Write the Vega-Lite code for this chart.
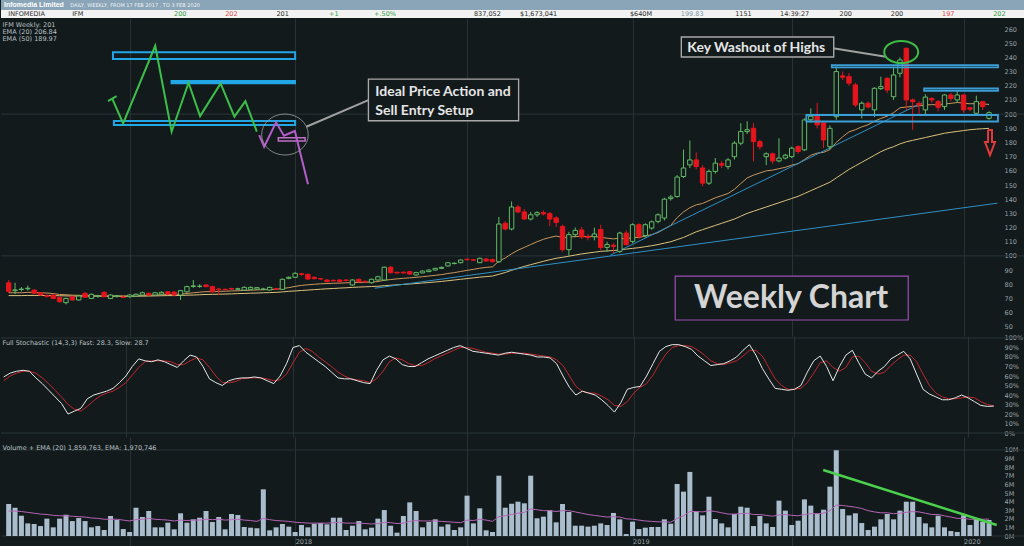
{
  "$schema": "https://vega.github.io/schema/vega-lite/v6.json",
  "background": "#121a1c",
  "padding": 0,
  "spacing": 0,
  "bounds": "flush",
  "config": {
    "view": {"stroke": null},
    "font": "DejaVu Sans",
    "axis": {"labelFont": "DejaVu Sans", "labelFontSize": 6.5, "labelColor": "#9aa2a6", "tickSize": 0, "ticks": false, "domain": false, "grid": false, "labelOverlap": false, "labelFlush": false, "labelBound": false},
    "title": {"font": "DejaVu Sans"}
  },
  "resolve": {"scale": {"x": "independent", "y": "independent", "color": "independent"}},
  "datasets": {
    "weeks": [
      {"w":0,"d":"2017-02-20","o":81,"h":83,"l":74,"c":75,"v":3.72,"ve":2.9,"k":59,"s":55,"e20":74,"e50":72},
      {"w":1,"d":"2017-02-27","o":75.5,"h":81,"l":73,"c":76,"v":3.29,"ve":2.9,"k":63,"s":60,"e20":74,"e50":72},
      {"w":2,"d":"2017-03-06","o":76.3,"h":78,"l":75,"c":76.6,"v":2.36,"ve":2.85,"k":65,"s":63,"e20":74,"e50":72},
      {"w":3,"d":"2017-03-13","o":76.8,"h":79,"l":75.5,"c":77.2,"v":1.47,"ve":2.75,"k":66,"s":65,"e20":74.3,"e50":72.1},
      {"w":4,"d":"2017-03-20","o":75.9,"h":76.5,"l":73,"c":73.6,"v":1.4,"ve":2.65,"k":65,"s":65,"e20":74.2,"e50":72.1},
      {"w":5,"d":"2017-03-27","o":74,"h":74.5,"l":72,"c":72.4,"v":1.16,"ve":2.55,"k":58,"s":63,"e20":74,"e50":72.1},
      {"w":6,"d":"2017-04-03","o":71.8,"h":73,"l":70.5,"c":71.6,"v":2.02,"ve":2.5,"k":52,"s":58,"e20":73.8,"e50":72},
      {"w":7,"d":"2017-04-10","o":72.4,"h":72.8,"l":69.5,"c":70,"v":1.01,"ve":2.4,"k":45,"s":52,"e20":73.4,"e50":72},
      {"w":8,"d":"2017-04-17","o":70.8,"h":71,"l":67,"c":67.7,"v":2.02,"ve":2.35,"k":38,"s":45,"e20":72.8,"e50":71.9},
      {"w":9,"d":"2017-04-24","o":67,"h":70.5,"l":65.8,"c":70,"v":2.48,"ve":2.35,"k":31,"s":38,"e20":72.6,"e50":71.8},
      {"w":10,"d":"2017-05-01","o":71.2,"h":71.5,"l":68.5,"c":68.9,"v":1.74,"ve":2.3,"k":20,"s":30,"e20":72.3,"e50":71.7},
      {"w":11,"d":"2017-05-08","o":68.9,"h":72.5,"l":68.5,"c":71.7,"v":2.09,"ve":2.25,"k":23,"s":25,"e20":72.2,"e50":71.6},
      {"w":12,"d":"2017-05-15","o":73.6,"h":74.5,"l":70.5,"c":70.8,"v":1.74,"ve":2.2,"k":26,"s":23,"e20":72,"e50":71.6},
      {"w":13,"d":"2017-05-22","o":70,"h":73.5,"l":69.5,"c":72.9,"v":1.01,"ve":2.1,"k":36,"s":28,"e20":72,"e50":71.6},
      {"w":14,"d":"2017-05-29","o":71.6,"h":72.5,"l":70.5,"c":71.8,"v":1.16,"ve":2.05,"k":40,"s":34,"e20":71.9,"e50":71.6},
      {"w":15,"d":"2017-06-05","o":74.3,"h":75,"l":70.8,"c":71.2,"v":0.7,"ve":1.95,"k":42,"s":39,"e20":71.8,"e50":71.5},
      {"w":16,"d":"2017-06-12","o":70,"h":73,"l":69.5,"c":72.4,"v":2.33,"ve":1.95,"k":44,"s":42,"e20":71.8,"e50":71.5},
      {"w":17,"d":"2017-06-19","o":71.6,"h":72.5,"l":70.5,"c":71.8,"v":1.86,"ve":1.95,"k":47,"s":44,"e20":71.8,"e50":71.5},
      {"w":18,"d":"2017-06-26","o":70.9,"h":71.8,"l":70,"c":70.7,"v":0.81,"ve":1.85,"k":53,"s":48,"e20":71.7,"e50":71.5},
      {"w":19,"d":"2017-07-03","o":71.2,"h":73,"l":70.5,"c":72.4,"v":0.47,"ve":1.75,"k":60,"s":53,"e20":71.8,"e50":71.5},
      {"w":20,"d":"2017-07-10","o":71.7,"h":73.5,"l":71,"c":72.9,"v":3.29,"ve":1.9,"k":70,"s":61,"e20":71.9,"e50":71.6},
      {"w":21,"d":"2017-07-17","o":72.4,"h":74.8,"l":72,"c":74,"v":2.21,"ve":1.95,"k":78,"s":69,"e20":72.1,"e50":71.6},
      {"w":22,"d":"2017-07-24","o":73.6,"h":74.2,"l":72,"c":72.4,"v":2.91,"ve":2.05,"k":76,"s":75,"e20":72.2,"e50":71.7},
      {"w":23,"d":"2017-07-31","o":72.4,"h":74.5,"l":72,"c":74,"v":1.01,"ve":1.95,"k":75,"s":76,"e20":72.4,"e50":71.8},
      {"w":24,"d":"2017-08-07","o":73,"h":75,"l":72.5,"c":74.3,"v":1.01,"ve":1.9,"k":77,"s":76,"e20":72.6,"e50":71.9},
      {"w":25,"d":"2017-08-14","o":74.7,"h":75.2,"l":72.6,"c":73.1,"v":1.55,"ve":1.85,"k":75,"s":76,"e20":72.7,"e50":72},
      {"w":26,"d":"2017-08-21","o":74.5,"h":75,"l":72,"c":72.4,"v":0.78,"ve":1.75,"k":72,"s":75,"e20":72.7,"e50":72},
      {"w":27,"d":"2017-08-28","o":72.4,"h":76,"l":68.9,"c":75.5,"v":2.64,"ve":1.85,"k":69,"s":72,"e20":73,"e50":72.1},
      {"w":28,"d":"2017-09-04","o":74.7,"h":79,"l":74,"c":78.3,"v":1.55,"ve":1.8,"k":76,"s":72,"e20":73.5,"e50":72.3},
      {"w":29,"d":"2017-09-11","o":78.5,"h":83,"l":77.5,"c":78.8,"v":1.94,"ve":1.85,"k":82,"s":76,"e20":74,"e50":72.4},
      {"w":30,"d":"2017-09-18","o":78.5,"h":80,"l":77.5,"c":78.6,"v":2.13,"ve":1.85,"k":80,"s":79,"e20":74.4,"e50":72.6},
      {"w":31,"d":"2017-09-25","o":79.5,"h":80,"l":78,"c":78.3,"v":2.91,"ve":1.95,"k":70,"s":77,"e20":74.8,"e50":72.8},
      {"w":32,"d":"2017-10-02","o":78.3,"h":79,"l":74,"c":74.7,"v":1.63,"ve":1.9,"k":57,"s":69,"e20":74.8,"e50":72.9},
      {"w":33,"d":"2017-10-09","o":76.6,"h":77.5,"l":72.4,"c":76.3,"v":2.21,"ve":1.95,"k":53,"s":60,"e20":75,"e50":73},
      {"w":34,"d":"2017-10-16","o":76.4,"h":77,"l":75.5,"c":76.2,"v":0.78,"ve":1.85,"k":50,"s":53,"e20":75.1,"e50":73.1},
      {"w":35,"d":"2017-10-23","o":77,"h":77.5,"l":76,"c":76.6,"v":2.56,"ve":1.9,"k":55,"s":53,"e20":75.3,"e50":73.2},
      {"w":36,"d":"2017-10-30","o":76.5,"h":77.5,"l":76,"c":76.8,"v":2.44,"ve":1.95,"k":57,"s":54,"e20":75.4,"e50":73.4},
      {"w":37,"d":"2017-11-06","o":75.9,"h":78.5,"l":75.5,"c":77.8,"v":1.05,"ve":1.85,"k":58,"s":57,"e20":75.6,"e50":73.5},
      {"w":38,"d":"2017-11-13","o":76.4,"h":78.5,"l":76,"c":77.8,"v":0.97,"ve":1.8,"k":58,"s":58,"e20":75.8,"e50":73.7},
      {"w":39,"d":"2017-11-20","o":76.6,"h":78,"l":76,"c":77.6,"v":0.89,"ve":1.7,"k":59,"s":58,"e20":76,"e50":73.8},
      {"w":40,"d":"2017-11-27","o":76.5,"h":77.5,"l":75.8,"c":76.6,"v":5.43,"ve":2.05,"k":58,"s":58,"e20":76.1,"e50":74},
      {"w":41,"d":"2017-12-04","o":75.9,"h":78.3,"l":75.5,"c":77.8,"v":0.66,"ve":1.9,"k":55,"s":57,"e20":76.3,"e50":74.1},
      {"w":42,"d":"2017-12-11","o":76.8,"h":77.5,"l":76,"c":76.6,"v":1.01,"ve":1.8,"k":52,"s":55,"e20":76.4,"e50":74.3},
      {"w":43,"d":"2017-12-18","o":76.4,"h":84,"l":76,"c":83.5,"v":1.4,"ve":1.75,"k":60,"s":56,"e20":77,"e50":74.6},
      {"w":44,"d":"2017-12-25","o":84.2,"h":85.5,"l":83.5,"c":84.9,"v":1.09,"ve":1.7,"k":73,"s":62,"e20":77.6,"e50":75},
      {"w":45,"d":"2018-01-01","o":84.9,"h":88.5,"l":84.5,"c":87.7,"v":0.47,"ve":1.6,"k":90,"s":74,"e20":78.5,"e50":75.3},
      {"w":46,"d":"2018-01-08","o":87.4,"h":88,"l":86,"c":87,"v":1.28,"ve":1.55,"k":92,"s":85,"e20":79.2,"e50":75.6},
      {"w":47,"d":"2018-01-15","o":87,"h":87.5,"l":83,"c":83.7,"v":1.01,"ve":1.5,"k":85,"s":89,"e20":79.6,"e50":75.9},
      {"w":48,"d":"2018-01-22","o":84.9,"h":85.5,"l":83.5,"c":83.9,"v":1.43,"ve":1.5,"k":80,"s":86,"e20":80,"e50":76.2},
      {"w":49,"d":"2018-01-29","o":84,"h":84.5,"l":83,"c":83.7,"v":1.51,"ve":1.5,"k":75,"s":80,"e20":80.3,"e50":76.5},
      {"w":50,"d":"2018-02-05","o":83,"h":83.5,"l":81.5,"c":81.8,"v":1.36,"ve":1.5,"k":70,"s":75,"e20":80.5,"e50":76.8},
      {"w":51,"d":"2018-02-12","o":82.7,"h":83.5,"l":82,"c":82.4,"v":2.13,"ve":1.55,"k":64,"s":70,"e20":80.7,"e50":77},
      {"w":52,"d":"2018-02-19","o":83,"h":83.5,"l":81.3,"c":81.8,"v":2.13,"ve":1.6,"k":58,"s":64,"e20":80.8,"e50":77.3},
      {"w":53,"d":"2018-02-26","o":83,"h":83.5,"l":82,"c":82.6,"v":0.7,"ve":1.5,"k":57,"s":60,"e20":81,"e50":77.5},
      {"w":54,"d":"2018-03-05","o":79.5,"h":83.5,"l":79,"c":83,"v":1.2,"ve":1.5,"k":57,"s":57,"e20":81.2,"e50":77.8},
      {"w":55,"d":"2018-03-12","o":83.5,"h":84,"l":81.5,"c":81.8,"v":1.74,"ve":1.5,"k":55,"s":56,"e20":81.3,"e50":78},
      {"w":56,"d":"2018-03-19","o":82.1,"h":82.5,"l":81,"c":81.7,"v":0.78,"ve":1.45,"k":53,"s":55,"e20":81.4,"e50":78.2},
      {"w":57,"d":"2018-03-26","o":81.1,"h":84,"l":80.5,"c":83.5,"v":0.97,"ve":1.4,"k":52,"s":53,"e20":81.6,"e50":78.4},
      {"w":58,"d":"2018-04-02","o":83,"h":86,"l":82.5,"c":85.3,"v":2.02,"ve":1.45,"k":66,"s":57,"e20":81.9,"e50":78.6},
      {"w":59,"d":"2018-04-09","o":83,"h":92.5,"l":82.5,"c":92,"v":3.02,"ve":1.6,"k":77,"s":65,"e20":82.8,"e50":79},
      {"w":60,"d":"2018-04-16","o":92,"h":93,"l":87.5,"c":88.2,"v":1.2,"ve":1.55,"k":81,"s":75,"e20":83.3,"e50":79.3},
      {"w":61,"d":"2018-04-23","o":88.4,"h":89,"l":87.5,"c":88,"v":0.39,"ve":1.45,"k":78,"s":79,"e20":83.8,"e50":79.6},
      {"w":62,"d":"2018-04-30","o":88.5,"h":89,"l":87.6,"c":88,"v":2.33,"ve":1.5,"k":72,"s":77,"e20":84.2,"e50":79.9},
      {"w":63,"d":"2018-05-07","o":88.9,"h":89.5,"l":86.8,"c":87.2,"v":3.91,"ve":1.7,"k":70,"s":73,"e20":84.5,"e50":80.2},
      {"w":64,"d":"2018-05-14","o":86.5,"h":88.8,"l":86,"c":88.2,"v":2.91,"ve":1.8,"k":70,"s":71,"e20":84.9,"e50":80.5},
      {"w":65,"d":"2018-05-21","o":88,"h":89.8,"l":87.8,"c":89.3,"v":1.01,"ve":1.75,"k":74,"s":71,"e20":85.3,"e50":80.9},
      {"w":66,"d":"2018-05-28","o":88.9,"h":90.5,"l":88.5,"c":90,"v":1.63,"ve":1.75,"k":78,"s":74,"e20":85.8,"e50":81.2},
      {"w":67,"d":"2018-06-04","o":90,"h":91.5,"l":89.5,"c":91.2,"v":1.94,"ve":1.75,"k":81,"s":78,"e20":86.3,"e50":81.6},
      {"w":68,"d":"2018-06-11","o":91.2,"h":92.5,"l":90.8,"c":91.9,"v":1.09,"ve":1.7,"k":84,"s":81,"e20":86.8,"e50":82},
      {"w":69,"d":"2018-06-18","o":92.9,"h":95.5,"l":92.5,"c":95.2,"v":1.36,"ve":1.65,"k":87,"s":84,"e20":87.6,"e50":82.5},
      {"w":70,"d":"2018-06-25","o":94.6,"h":95.5,"l":94,"c":94.8,"v":0.7,"ve":1.6,"k":90,"s":87,"e20":88.2,"e50":83},
      {"w":71,"d":"2018-07-02","o":95.2,"h":97.5,"l":94.8,"c":97.1,"v":1.01,"ve":1.55,"k":92,"s":90,"e20":89,"e50":83.5},
      {"w":72,"d":"2018-07-09","o":97.7,"h":98,"l":96.8,"c":97.3,"v":4.69,"ve":1.85,"k":89,"s":90,"e20":89.8,"e50":84},
      {"w":73,"d":"2018-07-16","o":97.3,"h":97.8,"l":96.5,"c":97,"v":1.47,"ve":1.8,"k":86,"s":89,"e20":90.5,"e50":84.5},
      {"w":74,"d":"2018-07-23","o":95.2,"h":98.8,"l":95,"c":98.3,"v":3.22,"ve":1.95,"k":85,"s":87,"e20":91.3,"e50":85},
      {"w":75,"d":"2018-07-30","o":97.8,"h":98.5,"l":96,"c":96.4,"v":0.66,"ve":1.85,"k":84,"s":85,"e20":91.9,"e50":85.4},
      {"w":76,"d":"2018-08-06","o":97.5,"h":98,"l":95.5,"c":95.9,"v":0.47,"ve":1.7,"k":83,"s":84,"e20":92.3,"e50":85.8},
      {"w":77,"d":"2018-08-13","o":95.9,"h":127.5,"l":95,"c":122.5,"v":7.01,"ve":2.25,"k":82,"s":83,"e20":96.3,"e50":87},
      {"w":78,"d":"2018-08-20","o":123,"h":124.5,"l":118,"c":119,"v":3.29,"ve":2.35,"k":84,"s":83,"e20":98.5,"e50":88.3},
      {"w":79,"d":"2018-08-27","o":119,"h":138.4,"l":118,"c":134.5,"v":3.76,"ve":2.5,"k":85,"s":84,"e20":101.5,"e50":89.8},
      {"w":80,"d":"2018-09-03","o":134.5,"h":136,"l":130,"c":131,"v":3.99,"ve":2.65,"k":84,"s":84,"e20":104,"e50":91.3},
      {"w":81,"d":"2018-09-10","o":131,"h":133,"l":125.5,"c":126,"v":3.8,"ve":2.75,"k":83,"s":84,"e20":106,"e50":92.6},
      {"w":82,"d":"2018-09-17","o":126,"h":131,"l":125,"c":129,"v":7.01,"ve":3.15,"k":82,"s":83,"e20":108,"e50":93.8},
      {"w":83,"d":"2018-09-24","o":129,"h":131.5,"l":127.5,"c":130.5,"v":2.06,"ve":3.05,"k":80,"s":82,"e20":110,"e50":95},
      {"w":84,"d":"2018-10-01","o":130.5,"h":132,"l":128.5,"c":129.6,"v":2.25,"ve":2.95,"k":80,"s":81,"e20":111.7,"e50":96.2},
      {"w":85,"d":"2018-10-08","o":129.8,"h":131,"l":121,"c":126,"v":2.99,"ve":2.95,"k":79,"s":80,"e20":113,"e50":97.3},
      {"w":86,"d":"2018-10-15","o":126.8,"h":128,"l":120.5,"c":123.6,"v":1.59,"ve":2.85,"k":73,"s":77,"e20":114,"e50":98.3},
      {"w":87,"d":"2018-10-22","o":120.8,"h":122,"l":103,"c":104.4,"v":3.72,"ve":2.95,"k":60,"s":71,"e20":113,"e50":99},
      {"w":88,"d":"2018-10-29","o":104.4,"h":117,"l":100,"c":115,"v":2.79,"ve":2.95,"k":48,"s":60,"e20":113.2,"e50":99.8},
      {"w":89,"d":"2018-11-05","o":115,"h":120,"l":113,"c":118,"v":1.2,"ve":2.8,"k":40,"s":49,"e20":113.7,"e50":100.6},
      {"w":90,"d":"2018-11-12","o":118.3,"h":120.5,"l":112,"c":113.3,"v":1.2,"ve":2.65,"k":44,"s":44,"e20":113.7,"e50":101.4},
      {"w":91,"d":"2018-11-19","o":113.5,"h":115.5,"l":111,"c":113,"v":1.09,"ve":2.5,"k":42,"s":42,"e20":113.7,"e50":102},
      {"w":92,"d":"2018-11-26","o":113.5,"h":120,"l":111,"c":115.5,"v":1.2,"ve":2.4,"k":40,"s":42,"e20":113.8,"e50":102.6},
      {"w":93,"d":"2018-12-03","o":118.6,"h":122,"l":104,"c":105.9,"v":1.47,"ve":2.3,"k":35,"s":39,"e20":113,"e50":103.2},
      {"w":94,"d":"2018-12-10","o":106,"h":110,"l":103,"c":108,"v":1.28,"ve":2.2,"k":29,"s":35,"e20":112.5,"e50":103.5},
      {"w":95,"d":"2018-12-17","o":107.5,"h":109,"l":102,"c":106.7,"v":2.68,"ve":2.25,"k":22,"s":29,"e20":112,"e50":103.8},
      {"w":96,"d":"2018-12-24","o":103.2,"h":117,"l":102,"c":116.1,"v":1.94,"ve":2.2,"k":32,"s":28,"e20":112.5,"e50":104.3},
      {"w":97,"d":"2018-12-31","o":116.1,"h":118,"l":107,"c":108,"v":0.23,"ve":2,"k":46,"s":33,"e20":112,"e50":104.8},
      {"w":98,"d":"2019-01-07","o":110.2,"h":123,"l":109,"c":122,"v":1.67,"ve":1.95,"k":48,"s":42,"e20":113,"e50":105.3},
      {"w":99,"d":"2019-01-14","o":122,"h":123,"l":112,"c":113.7,"v":0.81,"ve":1.85,"k":49,"s":48,"e20":113,"e50":105.8},
      {"w":100,"d":"2019-01-21","o":114.4,"h":123,"l":113,"c":122,"v":0.97,"ve":1.75,"k":60,"s":52,"e20":114,"e50":106.5},
      {"w":101,"d":"2019-01-28","o":119.6,"h":125,"l":118.5,"c":124,"v":1.05,"ve":1.7,"k":73,"s":61,"e20":115,"e50":107.2},
      {"w":102,"d":"2019-02-04","o":124.3,"h":130,"l":123,"c":129,"v":1.05,"ve":1.65,"k":86,"s":73,"e20":116.5,"e50":108},
      {"w":103,"d":"2019-02-11","o":126.7,"h":141,"l":125,"c":140,"v":1.94,"ve":1.65,"k":91,"s":83,"e20":119,"e50":109},
      {"w":104,"d":"2019-02-18","o":140.4,"h":143,"l":139,"c":141.5,"v":1.43,"ve":1.6,"k":93,"s":90,"e20":121.5,"e50":110},
      {"w":105,"d":"2019-02-25","o":141.9,"h":157,"l":141,"c":155.6,"v":6.05,"ve":2.05,"k":93,"s":92,"e20":127,"e50":111.5},
      {"w":106,"d":"2019-03-04","o":156,"h":175,"l":155,"c":162,"v":5.16,"ve":2.35,"k":91,"s":92,"e20":131,"e50":113},
      {"w":107,"d":"2019-03-11","o":164.2,"h":181.4,"l":162,"c":167.7,"v":7.45,"ve":2.85,"k":88,"s":91,"e20":134,"e50":115},
      {"w":108,"d":"2019-03-18","o":167.7,"h":173,"l":161,"c":163,"v":2.83,"ve":2.85,"k":81,"s":87,"e20":136,"e50":117},
      {"w":109,"d":"2019-03-25","o":162,"h":164,"l":149,"c":151.3,"v":2.4,"ve":2.8,"k":76,"s":82,"e20":137,"e50":118.5},
      {"w":110,"d":"2019-04-01","o":151.3,"h":161,"l":150,"c":159.6,"v":4.57,"ve":2.95,"k":71,"s":76,"e20":139,"e50":120},
      {"w":111,"d":"2019-04-08","o":159.6,"h":169,"l":158,"c":165.4,"v":1.98,"ve":2.85,"k":72,"s":73,"e20":141,"e50":121.5},
      {"w":112,"d":"2019-04-15","o":165,"h":167,"l":162,"c":164,"v":1.47,"ve":2.7,"k":73,"s":72,"e20":142.5,"e50":123},
      {"w":113,"d":"2019-04-22","o":163,"h":169,"l":161,"c":167.7,"v":1.01,"ve":2.55,"k":76,"s":74,"e20":144,"e50":124.5},
      {"w":114,"d":"2019-04-29","o":170,"h":181,"l":168,"c":179.5,"v":2.56,"ve":2.55,"k":80,"s":76,"e20":147,"e50":126},
      {"w":115,"d":"2019-05-06","o":179.5,"h":193.6,"l":178,"c":187.7,"v":3.41,"ve":2.6,"k":87,"s":81,"e20":151,"e50":128},
      {"w":116,"d":"2019-05-13","o":187.7,"h":195,"l":186,"c":189,"v":3.29,"ve":2.65,"k":93,"s":87,"e20":155,"e50":130},
      {"w":117,"d":"2019-05-20","o":190,"h":193.6,"l":166.6,"c":180.6,"v":1.16,"ve":2.5,"k":82,"s":87,"e20":157,"e50":131.5},
      {"w":118,"d":"2019-05-27","o":180.6,"h":182,"l":175,"c":177,"v":2.33,"ve":2.5,"k":68,"s":81,"e20":158.5,"e50":133},
      {"w":119,"d":"2019-06-03","o":170,"h":173,"l":164,"c":172,"v":1.47,"ve":2.4,"k":57,"s":69,"e20":160,"e50":134.5},
      {"w":120,"d":"2019-06-10","o":172,"h":173,"l":165,"c":167,"v":1.05,"ve":2.3,"k":47,"s":57,"e20":160.5,"e50":136},
      {"w":121,"d":"2019-06-17","o":167,"h":183,"l":166,"c":169,"v":4.11,"ve":2.45,"k":46,"s":50,"e20":161.5,"e50":137.5},
      {"w":122,"d":"2019-06-24","o":169,"h":172,"l":168,"c":171,"v":2.95,"ve":2.5,"k":45,"s":46,"e20":162.5,"e50":139},
      {"w":123,"d":"2019-07-01","o":170,"h":177,"l":169,"c":176,"v":1.28,"ve":2.4,"k":46,"s":46,"e20":164,"e50":140.5},
      {"w":124,"d":"2019-07-08","o":177.1,"h":178,"l":172,"c":173.6,"v":1.78,"ve":2.35,"k":50,"s":47,"e20":165,"e50":142},
      {"w":125,"d":"2019-07-15","o":174.8,"h":197,"l":174,"c":195.9,"v":4.26,"ve":2.5,"k":64,"s":53,"e20":168,"e50":144},
      {"w":126,"d":"2019-07-22","o":196,"h":204,"l":194,"c":198.5,"v":3.53,"ve":2.6,"k":76,"s":63,"e20":171,"e50":146},
      {"w":127,"d":"2019-07-29","o":199.4,"h":208,"l":190,"c":192.4,"v":2.6,"ve":2.6,"k":81,"s":74,"e20":172.5,"e50":148},
      {"w":128,"d":"2019-08-05","o":193.8,"h":195,"l":176,"c":181.8,"v":3.06,"ve":2.65,"k":70,"s":76,"e20":173,"e50":150},
      {"w":129,"d":"2019-08-12","o":177,"h":192,"l":175,"c":190,"v":5.74,"ve":2.95,"k":55,"s":69,"e20":175,"e50":152},
      {"w":130,"d":"2019-08-19","o":198.2,"h":233.5,"l":196,"c":230,"v":9.97,"ve":3.6,"k":70,"s":65,"e20":180,"e50":155},
      {"w":131,"d":"2019-08-26","o":227,"h":230,"l":224,"c":226,"v":3.14,"ve":3.55,"k":82,"s":69,"e20":184,"e50":158},
      {"w":132,"d":"2019-09-02","o":226.4,"h":229,"l":220,"c":221.8,"v":2.4,"ve":3.45,"k":87,"s":80,"e20":187.5,"e50":161},
      {"w":133,"d":"2019-09-09","o":220.6,"h":222,"l":205,"c":206.5,"v":2.64,"ve":3.35,"k":74,"s":81,"e20":189,"e50":163.5},
      {"w":134,"d":"2019-09-16","o":203,"h":209,"l":197,"c":207.7,"v":1.51,"ve":3.2,"k":62,"s":74,"e20":191,"e50":166},
      {"w":135,"d":"2019-09-23","o":207.7,"h":209,"l":204,"c":205,"v":0.7,"ve":2.95,"k":58,"s":65,"e20":192.5,"e50":168.5},
      {"w":136,"d":"2019-09-30","o":203,"h":219,"l":198,"c":218.2,"v":1.09,"ve":2.8,"k":65,"s":62,"e20":195,"e50":171},
      {"w":137,"d":"2019-10-07","o":218,"h":226.4,"l":217,"c":219.4,"v":1.94,"ve":2.7,"k":70,"s":64,"e20":197,"e50":173.5},
      {"w":138,"d":"2019-10-14","o":225.3,"h":226,"l":215,"c":217,"v":2.56,"ve":2.7,"k":78,"s":71,"e20":198.5,"e50":175.5},
      {"w":139,"d":"2019-10-21","o":212.3,"h":233.5,"l":210,"c":227.6,"v":1.94,"ve":2.6,"k":82,"s":77,"e20":201,"e50":177},
      {"w":140,"d":"2019-10-28","o":228.8,"h":240,"l":226,"c":238.2,"v":2.95,"ve":2.65,"k":86,"s":82,"e20":204.5,"e50":179},
      {"w":141,"d":"2019-11-04","o":246.4,"h":247,"l":203,"c":210,"v":3.99,"ve":2.75,"k":78,"s":82,"e20":205,"e50":180.5},
      {"w":142,"d":"2019-11-11","o":210,"h":211,"l":188.9,"c":208.8,"v":3.99,"ve":2.85,"k":62,"s":75,"e20":205.5,"e50":181.5},
      {"w":143,"d":"2019-11-18","o":207.5,"h":209,"l":200,"c":206.5,"v":2.21,"ve":2.8,"k":46,"s":62,"e20":205.8,"e50":182.5},
      {"w":144,"d":"2019-11-25","o":203,"h":214,"l":200,"c":212,"v":1.47,"ve":2.65,"k":41,"s":50,"e20":206.4,"e50":183.5},
      {"w":145,"d":"2019-12-02","o":211,"h":212,"l":208,"c":210,"v":1.01,"ve":2.5,"k":38,"s":42,"e20":206.7,"e50":184.5},
      {"w":146,"d":"2019-12-09","o":208.8,"h":210,"l":202,"c":204.8,"v":2.36,"ve":2.5,"k":35,"s":38,"e20":206.5,"e50":185.5},
      {"w":147,"d":"2019-12-16","o":205.3,"h":214,"l":203,"c":213.5,"v":1.01,"ve":2.35,"k":35,"s":36,"e20":207.2,"e50":186.5},
      {"w":148,"d":"2019-12-23","o":213.5,"h":215,"l":209,"c":211,"v":0.58,"ve":2.2,"k":37,"s":36,"e20":207.6,"e50":187.2},
      {"w":149,"d":"2019-12-30","o":210,"h":217,"l":208,"c":213.5,"v":0.47,"ve":2.05,"k":40,"s":37,"e20":208.2,"e50":187.8},
      {"w":150,"d":"2020-01-06","o":213.5,"h":214,"l":201,"c":203,"v":2.4,"ve":2.05,"k":37,"s":38,"e20":207.7,"e50":188.4},
      {"w":151,"d":"2020-01-13","o":204.5,"h":205,"l":202,"c":203.5,"v":1.28,"ve":1.95,"k":33,"s":37,"e20":207.3,"e50":189},
      {"w":152,"d":"2020-01-20","o":200.6,"h":213,"l":199,"c":208.8,"v":1.98,"ve":1.95,"k":29,"s":33,"e20":207.4,"e50":189.4},
      {"w":153,"d":"2020-01-27","o":208.8,"h":209,"l":203,"c":205.3,"v":1.67,"ve":1.95,"k":28,"s":30,"e20":207.2,"e50":189.7},
      {"w":154,"d":"2020-02-03","o":197,"h":202,"l":196,"c":201,"v":1.86,"ve":1.97,"k":28.3,"s":28.7,"e20":206.84,"e50":189.97}
    ],
    "quote": [
      {"slot":0,"t":"INFOMEDIA","tone":"flat"},
      {"slot":1,"t":"IFM","tone":"flat"},
      {"slot":3,"t":"200","tone":"up"},
      {"slot":4,"t":"202","tone":"down"},
      {"slot":5,"t":"201","tone":"flat"},
      {"slot":6,"t":"+1","tone":"up"},
      {"slot":7,"t":"+.50%","tone":"up"},
      {"slot":9,"t":"837,052","tone":"flat"},
      {"slot":10,"t":"$1,673,041","tone":"flat"},
      {"slot":12,"t":"$640M","tone":"flat"},
      {"slot":13,"t":"199.83","tone":"muted"},
      {"slot":14,"t":"1151","tone":"flat"},
      {"slot":15,"t":"14:39:27","tone":"flat"},
      {"slot":16,"t":"200","tone":"flat"},
      {"slot":17,"t":"200","tone":"flat"},
      {"slot":18,"t":"197","tone":"down"},
      {"slot":19,"t":"202","tone":"up"}
    ],
    "trends": [
      {"g":"shallow","n":0,"w":57.5,"p":77.2},
      {"g":"shallow","n":1,"w":155.3,"p":137.2},
      {"g":"steep","n":0,"w":94.5,"p":100.5},
      {"g":"steep","n":1,"w":143.5,"p":208}
    ],
    "sketch": [
      {"g":"plan","n":0,"w":16.3,"p":210.6},
      {"g":"plan","n":1,"w":17.98,"p":193.5},
      {"g":"plan","n":2,"w":23.02,"p":248.2},
      {"g":"plan","n":3,"w":25.6,"p":187.6},
      {"g":"plan","n":4,"w":28.25,"p":222.1},
      {"g":"plan","n":5,"w":30.07,"p":198.6},
      {"g":"plan","n":6,"w":33.29,"p":221.7},
      {"g":"plan","n":7,"w":35.46,"p":198.2},
      {"g":"plan","n":8,"w":37.18,"p":209.2},
      {"g":"plan","n":9,"w":38.98,"p":187.6},
      {"g":"serif","n":0,"w":15.6,"p":209.2},
      {"g":"serif","n":1,"w":16.95,"p":212.7},
      {"g":"break","n":0,"w":39.35,"p":185.2},
      {"g":"break","n":1,"w":40.13,"p":177},
      {"g":"break","n":2,"w":42,"p":194.2},
      {"g":"break","n":3,"w":43.24,"p":184.8},
      {"g":"break","n":4,"w":44.95,"p":188.1},
      {"g":"break","n":5,"w":47.02,"p":150.5},
      {"g":"call1","n":0,"w":46.76,"p":191.1},
      {"g":"call1","n":1,"w":56.51,"p":209.9},
      {"g":"call2","n":0,"w":129.5,"p":246.4},
      {"g":"call2","n":1,"w":137.8,"p":240.5},
      {"g":"arrow","n":0,"w":153.84,"p":188.8},
      {"g":"arrow","n":1,"w":154.46,"p":188.8},
      {"g":"arrow","n":2,"w":154.46,"p":180.3},
      {"g":"arrow","n":3,"w":154.93,"p":180.3},
      {"g":"arrow","n":4,"w":154.15,"p":171.1},
      {"g":"arrow","n":5,"w":153.37,"p":180.3},
      {"g":"arrow","n":6,"w":153.84,"p":180.3},
      {"g":"arrow","n":7,"w":153.84,"p":188.8}
    ],
    "boxes": [
      {"kind":"zoneL","w1":16.38,"w2":45,"p1":238.8,"p2":243.6},
      {"kind":"bar","w1":25.56,"w2":45,"p1":221.7,"p2":223.5},
      {"kind":"zoneL","w1":16.53,"w2":45,"p1":192.3,"p2":195.1},
      {"kind":"entry","w1":42.36,"w2":46.56,"p1":181,"p2":183.3},
      {"kind":"zoneR","w1":129.3,"w2":155.4,"p1":233,"p2":234.6},
      {"kind":"zoneR","w1":143.8,"w2":155.4,"p1":216.5,"p2":218.2},
      {"kind":"zoneR","w1":125.3,"w2":155.4,"p1":194.8,"p2":199.4},
      {"kind":"label","w1":56.51,"w2":80.1,"p1":195.3,"p2":224.7},
      {"kind":"label","w1":105.66,"w2":129.6,"p1":240.3,"p2":254.4},
      {"kind":"stamp","w1":104.7,"w2":141.3,"p1":54.8,"p2":85.8}
    ],
    "notes": [
      {"t":"Ideal Price Action and","w":57.6,"p":212.8},
      {"t":"Sell Entry Setup","w":57.6,"p":199.4},
      {"t":"Key Washout of Highs","w":106.6,"p":244}
    ],
    "voltrend": [
      {"n":0,"w":127.95,"v":7.67},
      {"n":1,"w":155.2,"v":1.28}
    ]
  },
  "vconcat": [
    {
      "width": 1024,
      "height": 10,
      "view": {"fill": "#8aa4b8", "stroke": null},
      "layer": [
        {
          "data": {"values": [{"slot": 0, "t": "Infomedia Limited"}]},
          "mark": {"type": "text", "align": "left", "dx": 3, "font": "Liberation Sans", "fontSize": 7, "fontWeight": "bold", "color": "#ffffff"},
          "encoding": {
            "x": {"field": "slot", "type": "ordinal", "scale": {"type": "point", "domain": [0,1,2,3,4,5,6,7,8,9,10,11,12,13,14,15], "padding": 0}, "axis": null},
            "text": {"field": "t"}
          }
        },
        {
          "data": {"values": [{"slot": 1, "t": "DAILY, WEEKLY, FROM 17 FEB 2017 , TO 3 FEB 2020"}]},
          "mark": {"type": "text", "align": "left", "dx": 1, "fontSize": 5, "color": "#eef3f6"},
          "encoding": {
            "x": {"field": "slot", "type": "ordinal", "axis": null},
            "text": {"field": "t"}
          }
        }
      ]
    },
    {
      "width": 1024,
      "height": 8,
      "view": {"fill": "#f2f2f2", "stroke": null},
      "data": {"name": "quote"},
      "mark": {"type": "text", "fontSize": 6.5},
      "encoding": {
        "x": {"field": "slot", "type": "ordinal", "scale": {"type": "point", "domain": [0,1,2,3,4,5,6,7,8,9,10,11,12,13,14,15,16,17,18,19]}, "axis": null},
        "text": {"field": "t"},
        "color": {"field": "tone", "type": "nominal", "scale": {"domain": ["flat","up","down","muted"], "range": ["#2a2a2a","#2f9e44","#d94848","#7d95a8"]}, "legend": null}
      }
    },
    {
      "width": 1024,
      "height": 318,
      "title": {"text": ["IFM Weekly: 201", "EMA (20) 206.84", "EMA (50) 189.97"], "anchor": "start", "orient": "top", "baseline": "top", "offset": -24, "dx": 2, "fontSize": 6.5, "fontWeight": "normal", "lineHeight": 7, "color": "#b9c0c4"},
      "resolve": {"scale": {"strokeWidth": "independent"}},
      "layer": [
        {
          "data": {"values": [{"p": 100}, {"p": 200}]},
          "mark": {"type": "rule", "color": "#2a3438", "strokeWidth": 1},
          "encoding": {
            "y": {"field": "p", "type": "quantitative", "title": null, "scale": {"domain": [43.5, 267.8], "nice": false, "zero": false},
              "axis": {"orient": "right", "values": [50,60,70,80,90,100,110,120,130,140,150,160,170,180,190,200,210,220,230,240,250,260], "tickCount": 100, "grid": false, "labelAlign": "left", "labelPadding": -21, "labelOverlap": false, "title": null}}
          }
        },
        {
          "data": {"name": "weeks"},
          "mark": {"type": "line", "color": "#dcc27c", "strokeWidth": 1},
          "encoding": {
            "x": {"field": "w", "type": "quantitative", "title": null, "scale": {"domain": [-0.42, 158.86], "nice": false, "zero": false},
              "axis": {"values": [19,45,72,98,123,150], "tickCount": 100, "grid": true, "gridColor": "#273136", "labels": false, "title": null}},
            "y": {"field": "e50", "type": "quantitative", "title": null}
          }
        },
        {
          "data": {"name": "weeks"},
          "mark": {"type": "line", "color": "#c9975c", "strokeWidth": 1},
          "encoding": {
            "x": {"field": "w", "type": "quantitative", "title": null},
            "y": {"field": "e20", "type": "quantitative", "title": null}
          }
        },
        {
          "data": {"name": "trends"},
          "mark": {"type": "line", "color": "#2f8fc4", "strokeWidth": 1},
          "encoding": {
            "x": {"field": "w", "type": "quantitative", "title": null},
            "y": {"field": "p", "type": "quantitative", "title": null},
            "detail": {"field": "g"},
            "order": {"field": "n"}
          }
        },
        {
          "data": {"name": "weeks"},
          "mark": {"type": "rule", "strokeWidth": 1},
          "encoding": {
            "x": {"field": "w", "type": "quantitative", "title": null},
            "y": {"field": "l", "type": "quantitative", "title": null},
            "y2": {"field": "h"},
            "color": {"condition": {"test": "datum.c >= datum.o", "value": "#62bb66"}, "value": "#e5151d"}
          }
        },
        {
          "data": {"name": "weeks"},
          "mark": {"type": "bar", "width": 4.4, "strokeWidth": 1},
          "encoding": {
            "x": {"field": "w", "type": "quantitative", "title": null},
            "y": {"field": "o", "type": "quantitative", "title": null},
            "y2": {"field": "c"},
            "fill": {"condition": {"test": "datum.c >= datum.o", "value": "#121a1c"}, "value": "#e5151d"},
            "stroke": {"condition": {"test": "datum.c >= datum.o", "value": "#62bb66"}, "value": "#e5151d"}
          }
        },
        {
          "data": {"name": "boxes"},
          "mark": {"type": "rect"},
          "encoding": {
            "x": {"field": "w1", "type": "quantitative", "title": null},
            "x2": {"field": "w2"},
            "y": {"field": "p1", "type": "quantitative", "title": null},
            "y2": {"field": "p2"},
            "fill": {"field": "kind", "type": "nominal", "scale": {"domain": ["zoneL","zoneR","bar","entry","label","stamp"], "range": ["transparent","transparent","#22a6e6","transparent","#121a1c","#121a1c"]}, "legend": null},
            "stroke": {"field": "kind", "type": "nominal", "scale": {"domain": ["zoneL","zoneR","bar","entry","label","stamp"], "range": ["#22a6e6","#3a9fd6","#22a6e6","#c070c8","#a9a9a9","#9c4fb4"]}, "legend": null},
            "strokeWidth": {"field": "kind", "type": "ordinal", "scale": {"domain": ["zoneL","zoneR","bar","entry","label","stamp"], "range": [2,1.2,1,1,1,2]}, "legend": null}
          }
        },
        {
          "data": {"name": "sketch"},
          "mark": {"type": "line"},
          "encoding": {
            "x": {"field": "w", "type": "quantitative", "title": null},
            "y": {"field": "p", "type": "quantitative", "title": null},
            "color": {"field": "g", "type": "nominal", "scale": {"domain": ["plan","serif","break","call1","call2","arrow"], "range": ["#3bbf4a","#3bbf4a","#b25cc9","#a0a0a0","#a0a0a0","#e23b3b"]}, "legend": null},
            "strokeWidth": {"field": "g", "type": "ordinal", "scale": {"domain": ["plan","serif","break","call1","call2","arrow"], "range": [2,2,2,0.8,0.8,1.6]}, "legend": null},
            "order": {"field": "n"}
          }
        },
        {
          "data": {"values": [{"w": 43.4, "p": 185.6}]},
          "mark": {"type": "point", "shape": "M-1,0A1,0.88,0,1,1,1,0A1,0.88,0,1,1,-1,0Z", "size": 2172, "filled": false, "color": "#a0a0a0", "strokeWidth": 0.8, "opacity": 1},
          "encoding": {
            "x": {"field": "w", "type": "quantitative", "title": null},
            "y": {"field": "p", "type": "quantitative", "title": null}
          }
        },
        {
          "data": {"values": [{"w": 140.2, "p": 243.8}]},
          "mark": {"type": "point", "shape": "M-1,0A1,0.65,0,1,1,1,0A1,0.65,0,1,1,-1,0Z", "size": 1156, "filled": false, "color": "#3dbb45", "strokeWidth": 2, "opacity": 1},
          "encoding": {
            "x": {"field": "w", "type": "quantitative", "title": null},
            "y": {"field": "p", "type": "quantitative", "title": null}
          }
        },
        {
          "data": {"name": "notes"},
          "mark": {"type": "text", "align": "left", "baseline": "alphabetic", "font": "Lato", "fontWeight": "bold", "fontSize": 14, "color": "#e6e6e6"},
          "encoding": {
            "x": {"field": "w", "type": "quantitative", "title": null},
            "y": {"field": "p", "type": "quantitative", "title": null},
            "text": {"field": "t"}
          }
        },
        {
          "data": {"values": [{"t": "Weekly Chart", "w": 122.9, "p": 63}]},
          "mark": {"type": "text", "align": "center", "baseline": "alphabetic", "font": "Lato", "fontWeight": "bold", "fontSize": 32, "color": "#d4d4d4"},
          "encoding": {
            "x": {"field": "w", "type": "quantitative", "title": null},
            "y": {"field": "p", "type": "quantitative", "title": null},
            "text": {"field": "t"}
          }
        }
      ]
    },
    {
      "width": 1024,
      "height": 101,
      "title": {"text": "Full Stochastic (14,3,3) Fast: 28.3, Slow: 28.7", "anchor": "start", "orient": "top", "baseline": "top", "offset": -11.5, "dx": 2, "fontSize": 6.5, "fontWeight": "normal", "color": "#b9c0c4"},
      "layer": [
        {
          "data": {"values": [{"q": 0}, {"q": 100}]},
          "mark": {"type": "rule", "color": "#2a3438", "strokeWidth": 1},
          "encoding": {
            "y": {"field": "q", "type": "quantitative", "title": null, "scale": {"domain": [-4.2, 102.1], "nice": false, "zero": false},
              "axis": {"orient": "right", "values": [0,10,20,30,40,50,60,70,80,90,100], "tickCount": 100, "labelExpr": "datum.value + '%'", "grid": false, "labelAlign": "left", "labelPadding": -21, "labelOverlap": false, "title": null}}
          }
        },
        {
          "data": {"name": "weeks"},
          "mark": {"type": "line", "color": "#c0282c", "strokeWidth": 1},
          "encoding": {
            "x": {"field": "w", "type": "quantitative", "title": null, "scale": {"domain": [-0.42, 158.86], "nice": false, "zero": false},
              "axis": {"values": [19,45,72,98,123,150], "tickCount": 100, "grid": true, "gridColor": "#273136", "labels": false, "title": null}},
            "y": {"field": "s", "type": "quantitative", "title": null}
          }
        },
        {
          "data": {"name": "weeks"},
          "mark": {"type": "line", "color": "#e6e6e6", "strokeWidth": 1},
          "encoding": {
            "x": {"field": "w", "type": "quantitative", "title": null},
            "y": {"field": "k", "type": "quantitative", "title": null}
          }
        }
      ]
    },
    {
      "width": 1024,
      "height": 109,
      "title": {"text": "Volume + EMA (20) 1,859,763, EMA: 1,970,746", "anchor": "start", "orient": "top", "baseline": "top", "offset": -14.5, "dx": 2, "fontSize": 6.5, "fontWeight": "normal", "color": "#b9c0c4"},
      "layer": [
        {
          "data": {"values": [{"m": 0}, {"m": 10}]},
          "mark": {"type": "rule", "color": "#2a3438", "strokeWidth": 1},
          "encoding": {
            "y": {"field": "m", "type": "quantitative", "title": null, "scale": {"domain": [-1.16, 11.51], "nice": false, "zero": false},
              "axis": {"orient": "right", "values": [0,1,2,3,4,5,6,7,8,9,10], "tickCount": 100, "labelExpr": "datum.value + 'M'", "grid": false, "labelAlign": "left", "labelPadding": -21, "labelOverlap": false, "title": null}}
          }
        },
        {
          "data": {"name": "weeks"},
          "mark": {"type": "bar", "width": 5, "color": "#a9bdcd"},
          "encoding": {
            "x": {"field": "w", "type": "quantitative", "title": null, "scale": {"domain": [-0.42, 158.86], "nice": false, "zero": false},
              "axis": {"orient": "bottom", "values": [19,45,72,98,123,150], "tickCount": 100, "labelExpr": "datum.value == 45 ? '2018' : datum.value == 98 ? '2019' : datum.value == 150 ? '2020' : ''", "labelAlign": "left", "labelBaseline": "top", "labelPadding": -8, "labelFlush": false, "labelOverlap": false, "grid": true, "gridColor": "#273136", "title": null}},
            "y": {"field": "v", "type": "quantitative", "title": null},
            "y2": {"datum": 0}
          }
        },
        {
          "data": {"name": "weeks"},
          "mark": {"type": "line", "color": "#b564b6", "strokeWidth": 1},
          "encoding": {
            "x": {"field": "w", "type": "quantitative", "title": null},
            "y": {"field": "ve", "type": "quantitative", "title": null}
          }
        },
        {
          "data": {"name": "voltrend"},
          "mark": {"type": "line", "color": "#4ccf4c", "strokeWidth": 2.5},
          "encoding": {
            "x": {"field": "w", "type": "quantitative", "title": null},
            "y": {"field": "v", "type": "quantitative", "title": null},
            "order": {"field": "n"}
          }
        }
      ]
    }
  ]
}
